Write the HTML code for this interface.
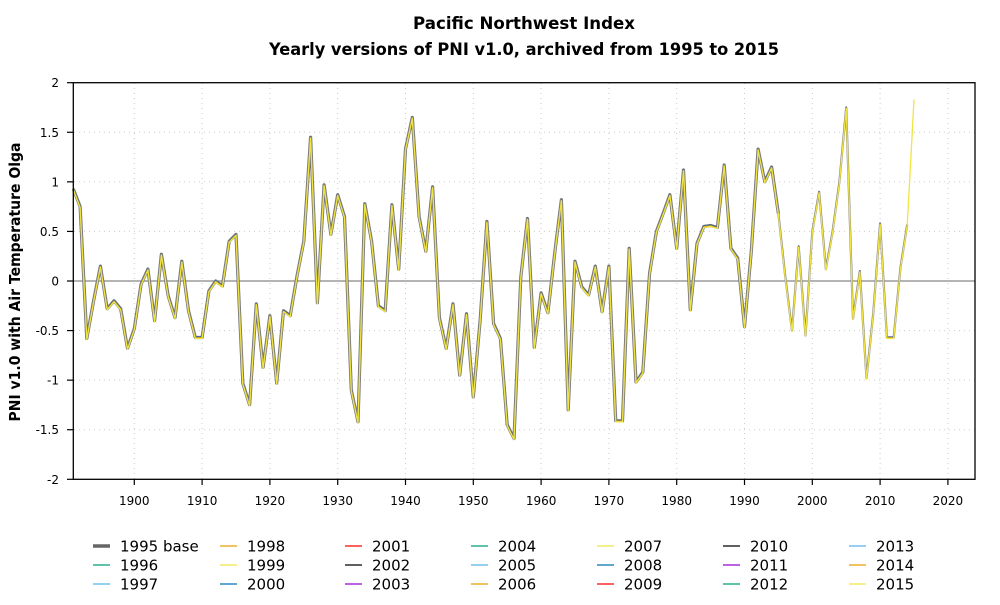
<!DOCTYPE html>
<html><head><meta charset="utf-8"><style>
body{margin:0;background:#fff}
svg text{font-family:"DejaVu Sans","Liberation Sans",sans-serif;fill:#000}
</style></head><body>
<svg id="s" width="1000" height="600" xmlns="http://www.w3.org/2000/svg">
<rect width="1000" height="600" fill="#fff"/>
<text x="524" y="29" font-size="17" font-weight="bold" text-anchor="middle" textLength="222" lengthAdjust="spacingAndGlyphs">Pacific Northwest Index</text>
<text x="524" y="55" font-size="17" font-weight="bold" text-anchor="middle" textLength="510" lengthAdjust="spacingAndGlyphs">Yearly versions of PNI v1.0, archived from 1995 to 2015</text>
<text transform="translate(20,282) rotate(-90)" font-size="15" font-weight="bold" text-anchor="middle" textLength="279" lengthAdjust="spacingAndGlyphs">PNI v1.0 with Air Temperature Olga</text>
<g id="grid" stroke="#ccc" stroke-width="1" stroke-dasharray="1,4"></g>
<line x1="73.3" y1="281" x2="975" y2="281" stroke="#888" stroke-width="1.2"/>
<g id="data" fill="none" stroke-linejoin="round"></g>
<rect x="73.3" y="82.7" width="901.7" height="396.6" fill="none" stroke="#000" stroke-width="1.3"/>
<g id="ticks"></g>
<g id="legend" font-size="15"></g>
</svg>
<script>
var NS="http://www.w3.org/2000/svg";
function el(p,t,a,txt){var e=document.createElementNS(NS,t);for(var k in a)e.setAttribute(k,a[k]);if(txt!==undefined)e.textContent=txt;p.appendChild(e);return e;}
var X=function(yr){return 134.3+(yr-1900)*6.78;};
var Y=function(v){return 281-v*99.15;};
var grid=document.getElementById('grid'),ticks=document.getElementById('ticks');
for(var yr=1900;yr<=2020;yr+=10){var x=X(yr);el(grid,'line',{x1:x,y1:83,x2:x,y2:479});
el(ticks,'line',{x1:x,y1:479.3,x2:x,y2:485,stroke:'#000','stroke-width':1.2});
el(ticks,'text',{x:x,y:505,'font-size':12,'text-anchor':'middle'},String(yr));}
var yl=['-2','-1.5','-1','-0.5','0','0.5','1','1.5','2'];
for(var i=0;i<9;i++){var v=-2+i*0.5,y=Y(v);if(v!=0&&Math.abs(v)!=2)el(grid,'line',{x1:74,y1:y,x2:975,y2:y});
el(ticks,'line',{x1:67,y1:y,x2:73.3,y2:y,stroke:'#000','stroke-width':1.2});
el(ticks,'text',{x:59,y:y+4.5,'font-size':12,'text-anchor':'end'},yl[i]);}
var d=[0.93,0.75,-0.58,-0.2,0.15,-0.28,-0.2,-0.28,-0.68,-0.48,-0.03,0.12,-0.4,0.27,-0.15,-0.37,0.2,-0.3,-0.57,-0.57,
-0.1,0.0,-0.05,0.4,0.47,-1.03,-1.25,-0.23,-0.87,-0.35,-1.03,-0.3,-0.35,0.05,0.4,1.45,-0.22,0.97,0.47,0.87,
0.65,-1.1,-1.42,0.78,0.4,-0.25,-0.3,0.77,0.12,1.33,1.65,0.65,0.3,0.95,-0.37,-0.68,-0.23,-0.95,-0.33,-1.17,
-0.4,0.6,-0.43,-0.58,-1.45,-1.59,0.04,0.63,-0.67,-0.12,-0.32,0.28,0.82,-1.3,0.2,-0.06,-0.14,0.15,-0.31,0.15,
-1.41,-1.41,0.33,-1.02,-0.92,0.08,0.5,0.68,0.87,0.33,1.12,-0.29,0.38,0.55,0.56,0.54,1.17,0.33,0.23,-0.46,
0.3,1.33,1.0,1.15,0.68,0.05,-0.5,0.35,-0.55,0.5,0.9,0.12,0.5,1.0,1.75,-0.38,0.1,-0.98,-0.32,0.58,
-0.57,-0.57,0.13,0.57,1.84];
function pts(end,dy){var s=[];for(var i=0;i<d.length;i++){var yr=1891+i;if(yr>end)break;s.push(X(yr).toFixed(1)+','+(Y(d[i])+dy).toFixed(1));}return s.join(' ');}
var g=document.getElementById('data');
el(g,'polyline',{points:pts(1995,0),stroke:'#707070','stroke-width':3.2});
el(g,'polyline',{points:pts(2014,0),stroke:'#888','stroke-width':2.2});
el(g,'polyline',{points:pts(2014,-0.6),stroke:'#3a6a9a','stroke-width':1});
el(g,'polyline',{points:pts(2014,0.3),stroke:'#e69f00','stroke-width':1});
el(g,'polyline',{points:pts(2015,1),stroke:'#f0e442','stroke-width':1.3});
var L=document.getElementById('legend');
var items=[['1995 base','#666',3.5],['1996','#009e73'],['1997','#56b4e9'],['1998','#e69f00'],['1999','#f0e442'],['2000','#0072b2'],
['2001','#ff0000'],['2002','#000'],['2003','#9400d3'],['2004','#009e73'],['2005','#56b4e9'],['2006','#e69f00'],
['2007','#f0e442'],['2008','#0072b2'],['2009','#ff0000'],['2010','#000'],['2011','#9400d3'],['2012','#009e73'],
['2013','#56b4e9'],['2014','#e69f00'],['2015','#f0e442']];
var cx=[93,220,345,471,597,723,849],ry=[546,565,584];
items.forEach(function(it,i){var c=Math.floor(i/3),r=i%3,x=cx[c],y=ry[r];
el(L,'line',{x1:x,y1:y,x2:x+17,y2:y,stroke:it[1],'stroke-width':it[2]||1.3});
el(L,'text',{x:x+27,y:y+5.5},it[0]);});
</script>
</body></html>
